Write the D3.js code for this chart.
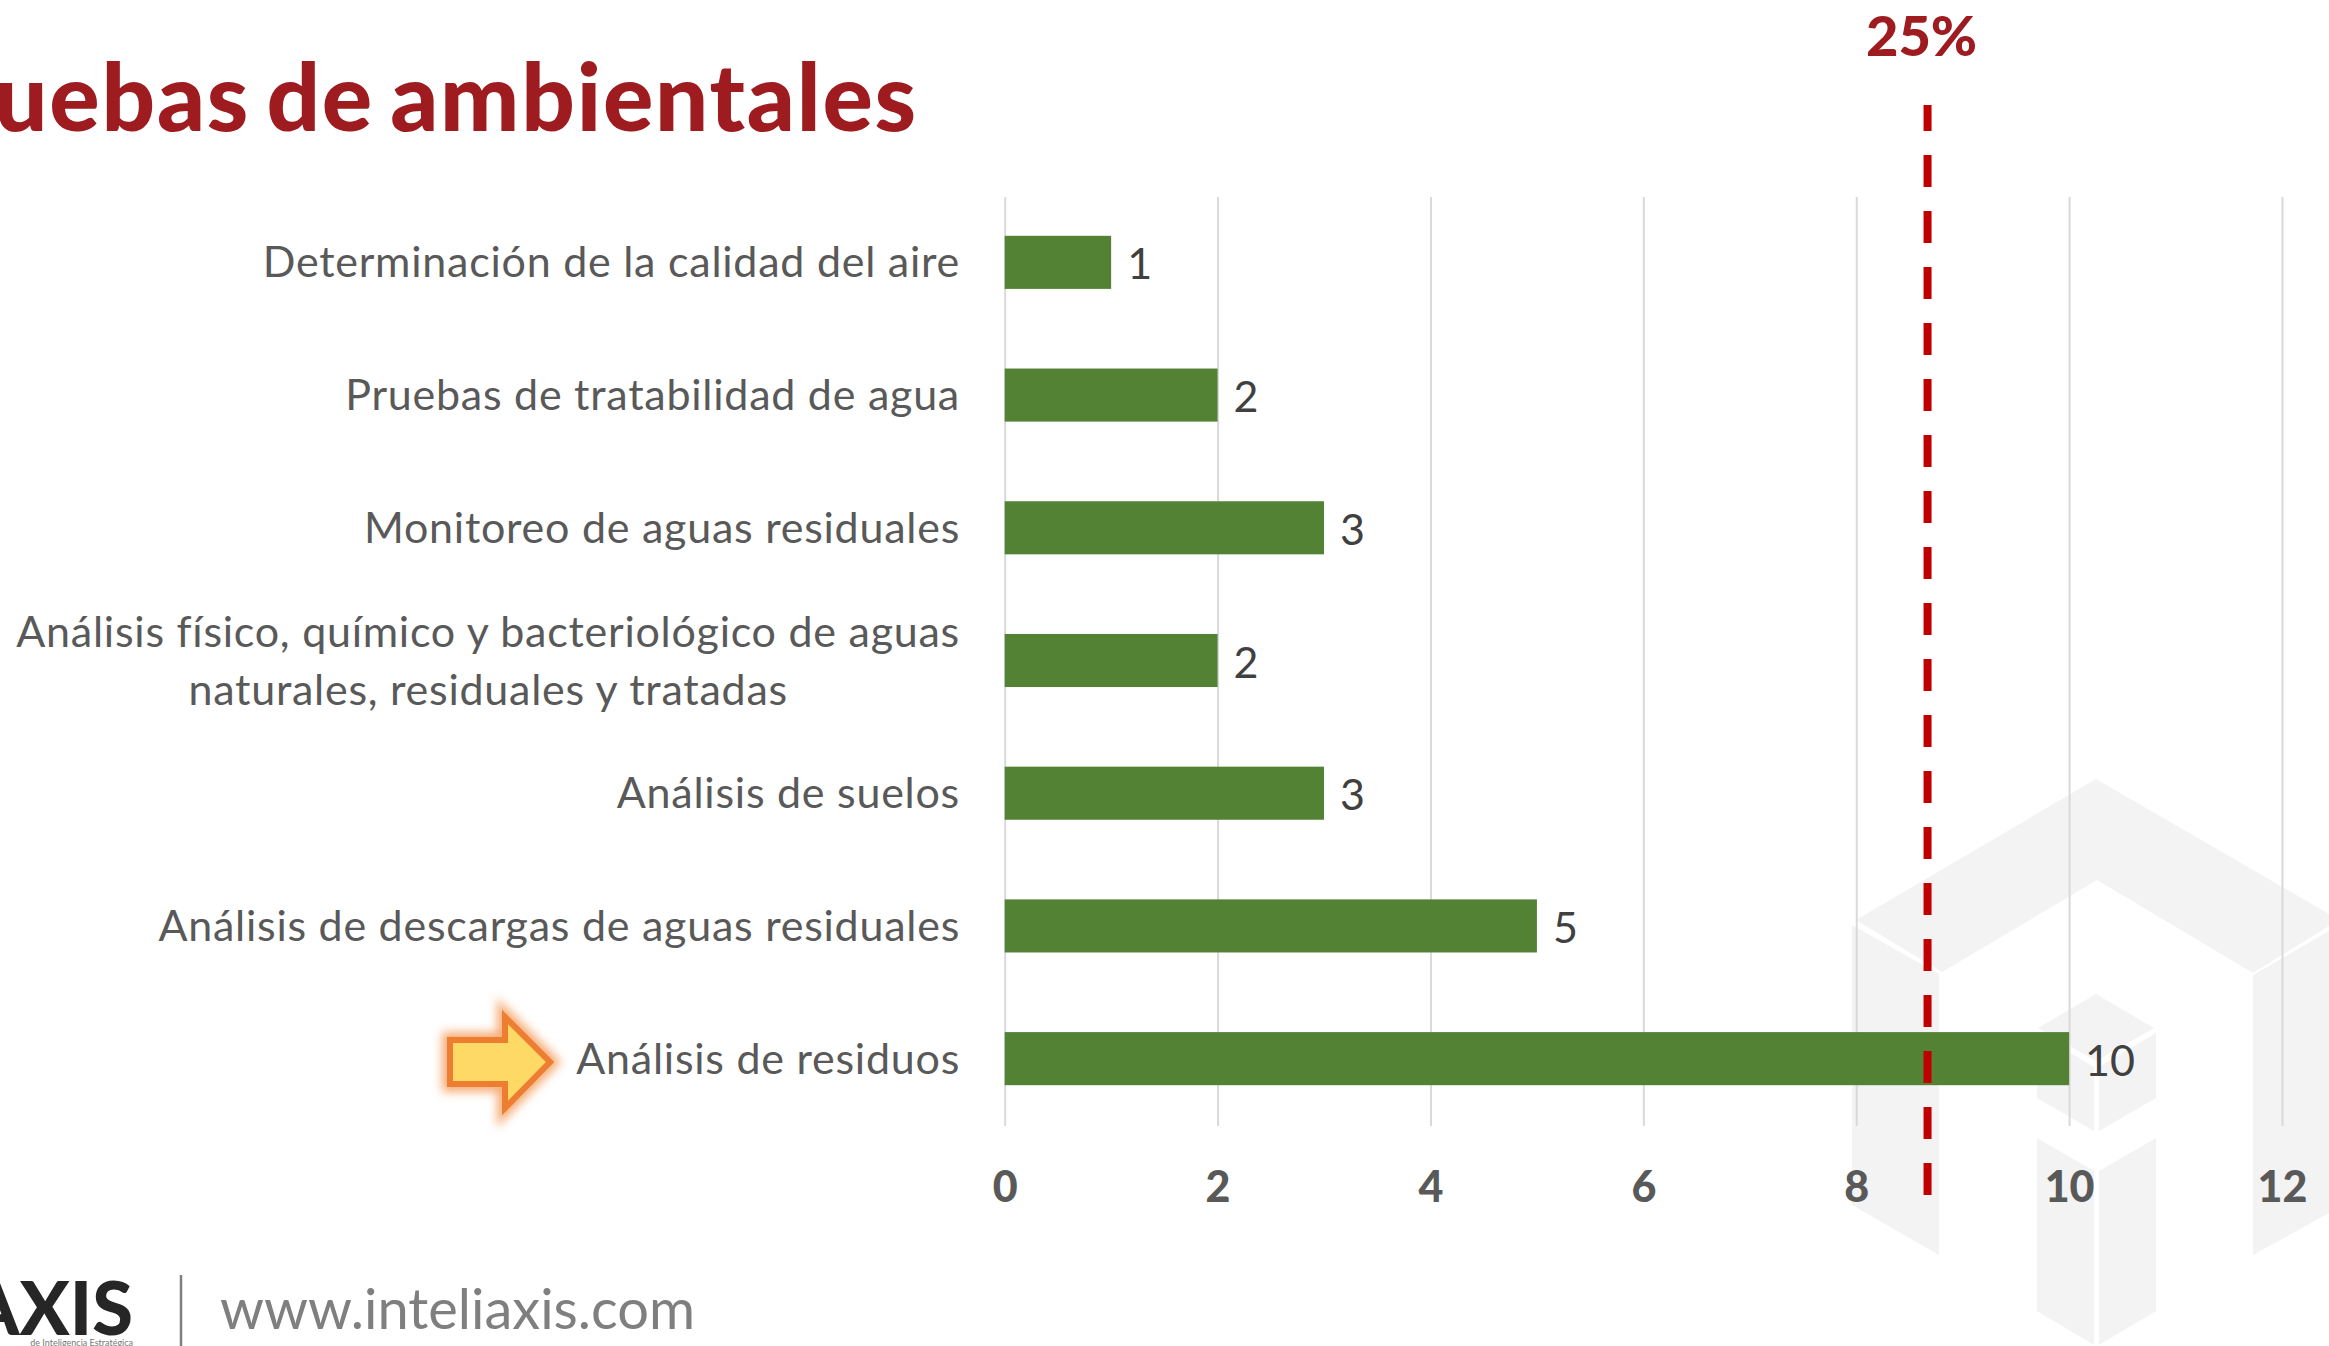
<!DOCTYPE html>
<html>
<head>
  <meta charset="utf-8">
  <script src="https://cdn.jsdelivr.net/npm/d3@7"></script>
  <style>
    html, body { margin: 0; padding: 0; background: #fff; overflow: hidden; }
    svg { display: block; }
    text { font-family: Lato, "Open Sans", sans-serif; }
  </style>
</head>
<body>
  <svg id="chart" width="2329" height="1346"></svg>
  <script>
    const categories = [
      "Determinación de la calidad del aire",
      "Pruebas de tratabilidad de agua",
      "Monitoreo de aguas residuales",
      "Análisis físico, químico y bacteriológico de aguas\nnaturales, residuales y tratadas",
      "Análisis de suelos",
      "Análisis de descargas de aguas residuales",
      "Análisis de residuos"
    ]
    const values = [1, 2, 3, 2, 3, 5, 10]
    const xTicks = [0, 2, 4, 6, 8, 10, 12]
    const threshold = 8.67
    const thresholdLabel = "25%"
    const title = "Pruebas de ambientales"
    const site = "www.inteliaxis.com"

    // background logo shapes, light grey
    const watermark = [
      [[1856,920],[2096,779],[2329,914],[2329,926],[2253,973],[2097,880],[1942,972]],
      [[1852,925],[1939,974],[1939,1255],[1852,1205]],
      [[2253,975],[2329,931],[2329,1213],[2253,1255]],
      [[2038,1028],[2096,994],[2154,1028],[2096,1061]],
      [[2037,1033],[2094,1067],[2094,1131],[2037,1098]],
      [[2099,1067],[2156,1033],[2156,1098],[2099,1131]],
      [[2037,1138],[2094,1171],[2094,1345],[2037,1311]],
      [[2099,1171],[2156,1138],[2156,1311],[2099,1345]]
    ]

    const svg = d3.select("#chart")

    const scX = d3.scaleLinear().domain([0, 12]).range([1004.7, 2282])
    const scY = d3.scaleBand().domain(categories).range([196, 1125]).paddingInner(0.6).paddingOuter(0.3)

    svg.selectAll("polygon.wm")
      .data(watermark)
      .enter().append("polygon")
      .attr("class", "wm")
      .attr("points", d => d.join(" "))
      .attr("fill", "#f3f3f3")

    // gridlines and bottom tick labels
    const xAxis = svg.append("g")
      .attr("transform", "translate(0,1126)")
      .call(d3.axisBottom(scX).tickValues(xTicks).tickSize(-929).tickPadding(45))
    xAxis.select(".domain").remove()
    xAxis.selectAll("line").attr("stroke", "#d9d9d9").attr("stroke-width", 2)
    xAxis.selectAll("text")
      .attr("fill", "#595959")
      .attr("font-size", 43)
      .attr("font-weight", 900)
      .style("font-family", "Lato")

    // bars
    svg.selectAll("rect.bar")
      .data(values)
      .enter().append("rect")
      .attr("class", "bar")
      .attr("x", scX(0))
      .attr("y", (d, i) => scY(categories[i]))
      .attr("width", d => scX(d) - scX(0))
      .attr("height", scY.bandwidth())
      .attr("fill", "#548235")

    // value labels
    svg.selectAll("text.val")
      .data(values)
      .enter().append("text")
      .attr("class", "val")
      .attr("x", d => scX(d) + 16)
      .attr("y", (d, i) => scY(categories[i]) + scY.bandwidth() / 2 + 17)
      .attr("fill", "#404040")
      .attr("font-size", 43)
      .text(d => d)

    // category labels, second line of a wrapped label is centred under the first
    const labelRight = 960
    const yCenter = c => scY(c) + scY.bandwidth() / 2
    categories.forEach(c => {
      const lines = c.split("\n")
      const g = svg.append("g")
      const ts = g.selectAll("text")
        .data(lines)
        .enter().append("text")
        .attr("y", (d, i) => yCenter(c) + 15 + (i - (lines.length - 1) / 2) * 58)
        .attr("fill", "#595959")
        .attr("font-size", 43)
        .attr("letter-spacing", 0.75)
        .text(d => d)
      const w = d3.max(ts.nodes(), n => n.getComputedTextLength())
      if (lines.length > 1) {
        ts.attr("text-anchor", "middle").attr("x", labelRight - w / 2)
      } else {
        ts.attr("text-anchor", "end").attr("x", labelRight)
      }
    })

    // threshold line
    svg.append("line")
      .attr("x1", scX(threshold)).attr("x2", scX(threshold))
      .attr("y1", 105).attr("y2", 1195)
      .attr("stroke", "#c00000")
      .attr("stroke-width", 8)
      .attr("stroke-dasharray", "32 24")
      .attr("stroke-dashoffset", 6)

    svg.append("text")
      .attr("x", scX(threshold) - 6)
      .attr("y", 56)
      .attr("text-anchor", "middle")
      .attr("fill", "#9e1b20")
      .attr("font-size", 56)
      .attr("font-weight", 900)
      .text(thresholdLabel)

    svg.append("text")
      .attr("x", 918)
      .attr("y", 131)
      .attr("text-anchor", "end")
      .attr("fill", "#9e1b20")
      .attr("font-size", 94)
      .attr("font-weight", 900)
      .attr("letter-spacing", 1.8)
      .attr("word-spacing", -8)
      .text(title)

    // arrow pointing at the last category
    const defs = svg.append("defs")
    defs.append("filter").attr("id", "glow")
      .attr("x", "-30%").attr("y", "-30%").attr("width", "160%").attr("height", "160%")
      .append("feGaussianBlur").attr("stdDeviation", 5)

    const arrow = "M450,1040 H505 V1017 L550,1062 L505,1108 V1084 H450 Z"
    svg.append("path").attr("d", arrow)
      .attr("fill", "none").attr("stroke", "#f6ad78").attr("stroke-width", 16)
      .attr("filter", "url(#glow)")
    svg.append("path").attr("d", arrow)
      .attr("fill", "#ffd966").attr("stroke", "#ed7d31").attr("stroke-width", 6)

    // footer logo and address
    svg.append("text")
      .attr("x", 133).attr("y", 1335)
      .attr("text-anchor", "end")
      .attr("fill", "#262626")
      .attr("font-size", 74)
      .attr("font-weight", 900)
      .text("INTELIAXIS")
    svg.append("text")
      .attr("x", 133).attr("y", 1346)
      .attr("text-anchor", "end")
      .attr("fill", "#777")
      .attr("font-size", 9)
      .text("de Inteligencia Estratégica")
    svg.append("line")
      .attr("x1", 181).attr("x2", 181)
      .attr("y1", 1275).attr("y2", 1346)
      .attr("stroke", "#7f7f7f")
      .attr("stroke-width", 2.5)
    svg.append("text")
      .attr("x", 220).attr("y", 1329)
      .attr("fill", "#7f7f7f")
      .attr("font-size", 56)
      .text(site)
  </script>
</body>
</html>
